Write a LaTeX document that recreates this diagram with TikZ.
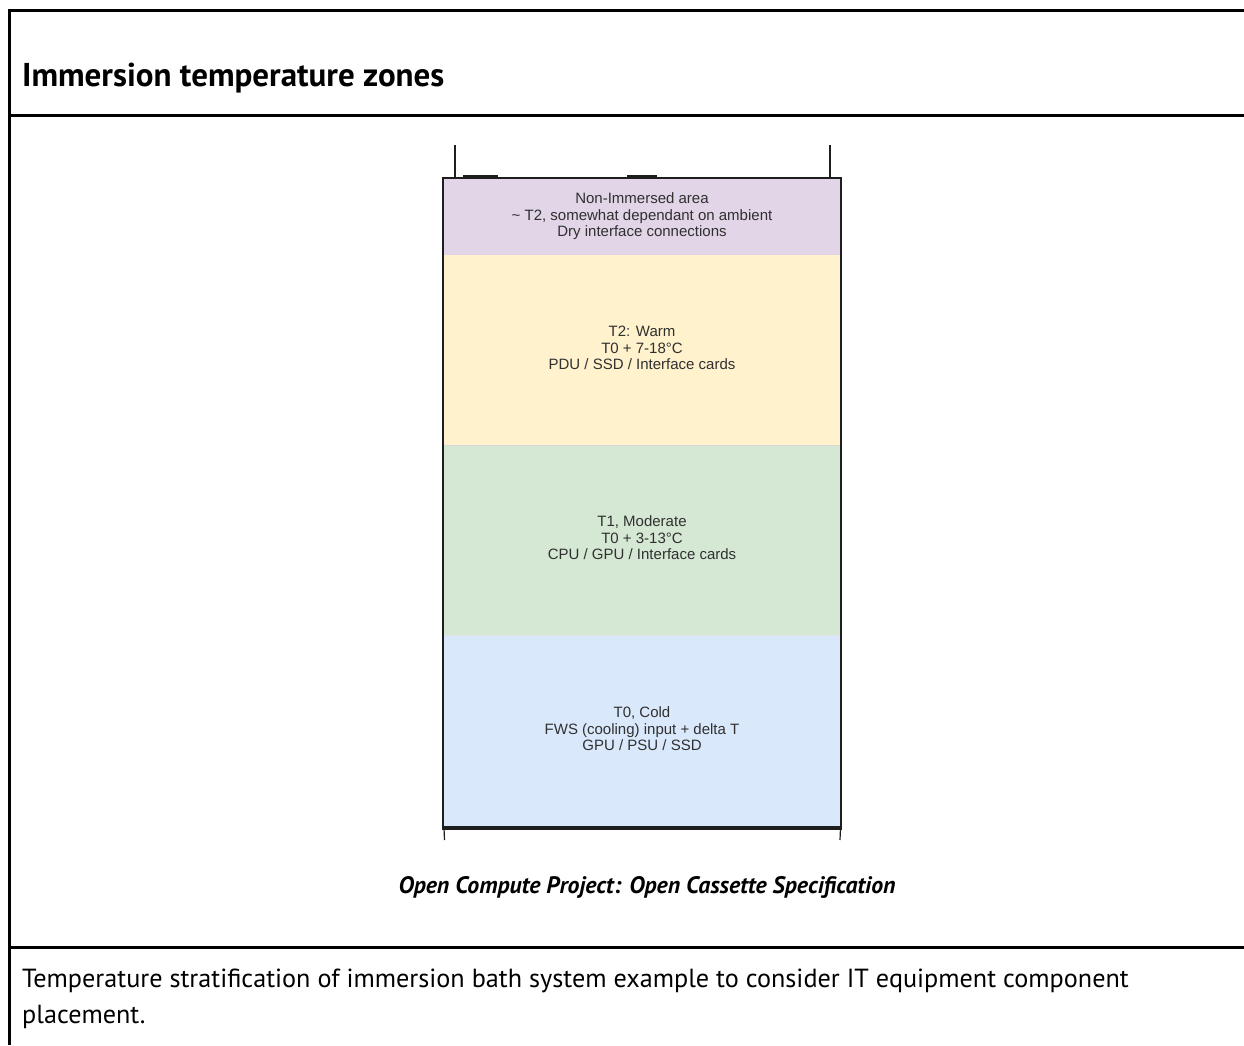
\documentclass[tikz,border=0pt]{standalone}
\usepackage{fontspec}
\setmainfont{PT Sans}
\newfontfamily\arialf{Liberation Sans}
\definecolor{zpurple}{HTML}{E1D5E7}
\definecolor{zyellow}{HTML}{FFF2CC}
\definecolor{zgreen}{HTML}{D5E8D4}
\definecolor{zblue}{HTML}{DAE8FC}
\definecolor{ztext}{HTML}{303030}
\definecolor{zedge}{HTML}{1E1E1E}
\begin{document}
\begin{tikzpicture}[x=1pt,y=-1pt,
  frameline/.style={line width=3pt,black},
  zonetext/.style={align=center,text=ztext,font=\arialf\fontsize{15}{16.5}\selectfont,inner sep=0pt},
  zoneedge/.style={line width=2.5pt,zedge},
  post/.style={line width=1.5pt,zedge}]
\useasboundingbox (0,0) rectangle (1244,1045);
\fill[white] (0,0) rectangle (1244,1045);
% outer table frame
\draw[frameline] (9,1045) -- (9,10.7) -- (1244,10.7);
\draw[frameline] (9,115.3) -- (1244,115.3);
\draw[frameline] (9,947.3) -- (1244,947.3);
% title
\node[anchor=base west,inner sep=0pt,font=\bfseries\fontsize{33}{38}\selectfont] (title) at (22,86) {Immersion temperature zones};
% zones
\fill[zpurple] (443,178) rectangle (841,255);
\fill[zyellow] (443,255) rectangle (841,445);
\fill[zgreen] (443,445) rectangle (841,635);
\fill[zblue] (443,635) rectangle (841,828);
\draw[zgreen!70!black!40,line width=0.6pt] (443,445) -- (841,445);
\draw[zblue!70!black!30,line width=0.6pt] (443,635) -- (841,635);
\draw[zoneedge] (443,828) -- (443,178) -- (841,178) -- (841,828);
\draw[zedge,line width=3.5pt] (441.8,828) -- (842.2,828);
% posts and details
\draw[post] (455,145) -- (455,178);
\draw[post] (830,145) -- (830,178);
\draw[zedge,line width=2pt] (463,176) -- (498,176);
\draw[zedge,line width=2pt] (627,175.5) -- (657,175.5);
\draw[zedge,line width=1.2pt] (444,828) -- (444.5,840);
\draw[zedge,line width=1.2pt] (840.5,828) -- (840,840);
% zone texts
\node[zonetext] (zone3) at (642,216.5) {Non-Immersed area\\\textasciitilde{} T2, somewhat dependant on ambient\\Dry interface connections};
\node[zonetext] (zone2) at (642,348) {T2: Warm\\T0 + 7-18°C\\PDU / SSD / Interface cards};
\node[zonetext] (zone1) at (642,538) {T1, Moderate\\T0 + 3-13°C\\CPU / GPU / Interface cards};
\node[zonetext] (zone0) at (642,729) {T0, Cold\\FWS (cooling) input + delta T\\GPU / PSU / SSD};
% caption
\node[anchor=base,inner sep=0pt,font=\bfseries\itshape\fontsize{23.8}{28}\selectfont] (caption) at (647,893) {Open Compute Project: Open Cassette Specification};
% description
\node[anchor=base west,inner sep=0pt,font=\fontsize{26.2}{36}\selectfont] (desc1) at (22,987) {Temperature stratification of immersion bath system example to consider IT equipment component};
\node[anchor=base west,inner sep=0pt,font=\fontsize{26.2}{36}\selectfont] (desc2) at (22,1023) {placement.};
\end{tikzpicture}
\end{document}
